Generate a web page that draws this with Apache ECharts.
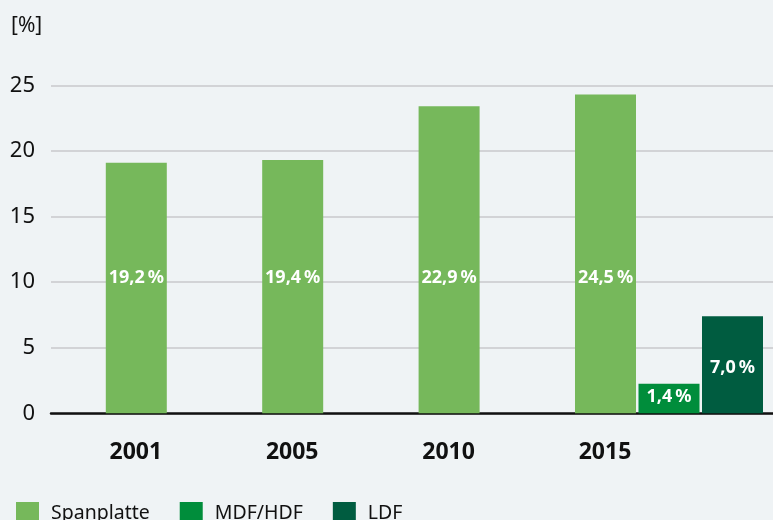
<!DOCTYPE html>
<html>
<head>
<meta charset="utf-8">
<script src="https://cdn.jsdelivr.net/npm/echarts@6/dist/echarts.min.js"></script>
<style>
html,body{margin:0;padding:0;background:#eff3f5;}
#c{width:773px;height:520px;}
</style>
</head>
<body>
<div id="c"></div>
<script>
const categories = ['2001', '2005', '2010', '2015'];
const spanplatte = [19.1, 19.3, 23.4, 24.3];
const mdfHdf = [null, null, null, 2.25];
const ldf = [null, null, null, 7.4];
const spanLabels = ['19,2\u2009%', '19,4\u2009%', '22,9\u2009%', '24,5\u2009%'];
const mdfLabels = ['', '', '', '1,4\u2009%'];
const ldfLabels = ['', '', '', '7,0\u2009%'];
const yTicks = { min: 0, max: 25, interval: 5 };
const unitLabel = '[%]';

const FONT = '"Noto Sans", sans-serif';
const chart = echarts.init(document.getElementById('c'), null, { renderer: 'canvas' });

function lbl(arr, dist) {
  return {
    show: true,
    position: 'insideBottom',
    distance: dist,
    color: '#ffffff',
    fontFamily: FONT,
    fontWeight: 'bold',
    fontSize: 18,
    formatter: p => arr[p.dataIndex]
  };
}

chart.setOption({
  backgroundColor: '#eff3f5',
  animation: false,
  title: {
    text: unitLabel, left: 6, top: 11,
    textStyle: { fontFamily: FONT, fontWeight: 'normal', fontSize: 21, color: '#111' }
  },
  legend: {
    left: 11, top: 497, itemWidth: 23, itemHeight: 23, itemGap: 30, icon: 'rect',
    textStyle: { fontFamily: FONT, fontSize: 19.5, color: '#111', padding: [0, 0, 6, 7] },
    data: ['Spanplatte', 'MDF/HDF', 'LDF']
  },
  grid: [
    { left: 51, right: 0, top: 85.3, bottom: 106.7, containLabel: false },
    { left: 121.6, right: 25.8, top: 85.3, bottom: 106.7, containLabel: false }
  ],
  xAxis: [
    {
      gridIndex: 0, type: 'value', min: 0, max: 1,
      axisLine: { show: true, lineStyle: { color: '#111', width: 2.5 } },
      axisTick: { show: false }, axisLabel: { show: false }, splitLine: { show: false }
    },
    {
      gridIndex: 1, type: 'category', data: categories,
      axisLine: { show: false }, axisTick: { show: false },
      axisLabel: {
        margin: 28, fontFamily: FONT, fontWeight: 'bold', fontSize: 23, color: '#111',
        padding: [0, 128, 0, 0]
      }
    }
  ],
  yAxis: [
    {
      gridIndex: 0, type: 'value', min: yTicks.min, max: yTicks.max, interval: yTicks.interval,
      axisLine: { show: false }, axisTick: { show: false },
      axisLabel: { margin: 16, fontFamily: FONT, fontSize: 22, color: '#111' },
      splitLine: { lineStyle: { color: '#c8c9cb', width: 1.5 } }
    },
    {
      gridIndex: 1, type: 'value', min: yTicks.min, max: yTicks.max, interval: yTicks.interval,
      show: false, splitLine: { show: false }
    }
  ],
  series: [
    {
      name: 'Spanplatte', type: 'bar', xAxisIndex: 1, yAxisIndex: 1, clip: false,
      data: spanplatte, barWidth: 61, barGap: '4.1%',
      itemStyle: { color: '#76b85b' }, label: lbl(spanLabels, 126)
    },
    {
      name: 'MDF/HDF', type: 'bar', xAxisIndex: 1, yAxisIndex: 1, clip: false,
      data: mdfHdf, barWidth: 61, barGap: '4.1%',
      itemStyle: { color: '#008d3b' }, label: lbl(mdfLabels, 7)
    },
    {
      name: 'LDF', type: 'bar', xAxisIndex: 1, yAxisIndex: 1, clip: false,
      data: ldf, barWidth: 61, barGap: '4.1%',
      itemStyle: { color: '#005c40' }, label: lbl(ldfLabels, 36)
    }
  ]
});
</script>
</body>
</html>
